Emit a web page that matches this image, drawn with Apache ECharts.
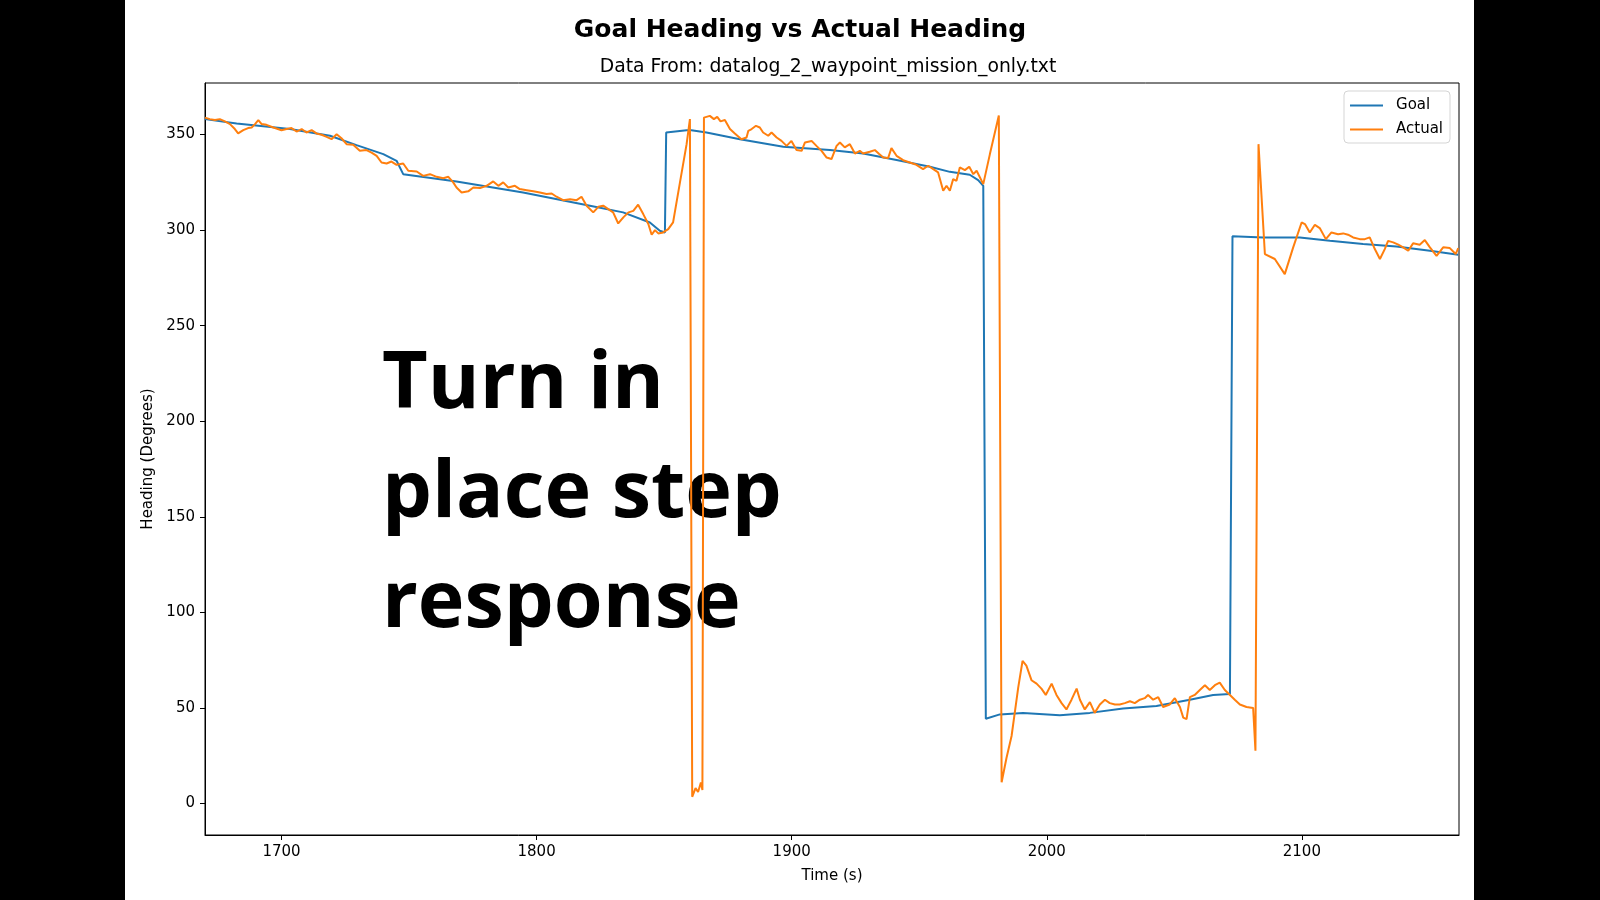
<!DOCTYPE html>
<html>
<head>
<meta charset="utf-8">
<script src="https://cdn.jsdelivr.net/npm/echarts@6/dist/echarts.min.js"></script>
<style>
html,body{margin:0;padding:0;background:#000;}
#chart{width:1600px;height:900px;}
</style>
</head>
<body>
<div id="chart"></div>
<script>
// ---- data ----
const goalTime = [1670,1682.4,1703.3,1719,1729.4,1739.9,1745.1,1747.7,1768.6,1794.7,1820.9,1833.9,1844.4,1848.3,1850.3,1850.8,1858.8,1860.7,1866.6,1879.7,1896.7,1915,1928,1941.1,1954.2,1962,1969.8,1973.1,1975.1,1976.1,1981.6,1990.7,2005.1,2016.9,2029.9,2043,2056.1,2065.2,2071.8,2072.8,2084.8,2099.2,2111,2124,2137.1,2150.2,2161.3];
const goalHeading = [358.1,355.8,352.9,349.4,344.5,339.8,336.3,329.3,325.5,319.7,312.8,309.3,304,299.7,298.8,351.1,352.3,352.3,351.1,347.6,343.6,341.9,340.1,336.7,333.2,330.5,329,326.2,323.2,44.3,46.6,47.4,46.1,47.4,49.7,51,54.3,56.8,57.3,296.8,296.2,296.2,294.5,292.7,291.5,289.2,287.1];

const actualTime = [1670,1671.9,1673.9,1675.8,1677.8,1679.8,1681.7,1683,1685,1686.9,1688.3,1689.6,1690.9,1692.2,1694.1,1696.8,1700,1702,1703.9,1705.9,1707.9,1709.8,1711.8,1713.7,1715.7,1717.7,1719.6,1721.6,1723.5,1725.5,1728.1,1730.7,1733.3,1735.3,1737.3,1739.2,1741.2,1743.1,1745.1,1747.7,1749.7,1753,1755.5,1758.2,1760.8,1763.4,1765.4,1767.3,1768.6,1770.6,1773.2,1775.2,1777.8,1780.4,1783,1785,1786.9,1788.9,1791.5,1793.4,1796.1,1798.7,1801.3,1803.9,1805.9,1807.8,1810.4,1813.1,1815.7,1817.6,1819.6,1822.2,1824.2,1826.1,1828.1,1830,1832,1834,1836,1837.9,1839.8,1841.8,1843.8,1845.1,1846.4,1847.7,1849.6,1851.6,1853.5,1856.2,1858.8,1860.1,1861,1862.3,1863.3,1864.4,1865,1865.6,1867.9,1869.5,1870.8,1872.1,1873.8,1875.8,1877.7,1880.3,1882.3,1883,1884.3,1886,1887.5,1888.8,1890.8,1892.1,1894.1,1896,1898,1899.9,1901.9,1903.9,1905.2,1907.8,1909.7,1911.7,1913.7,1915.6,1917.6,1918.9,1920.8,1922.8,1924.8,1926.7,1928,1930.6,1932.6,1934.3,1935.9,1937.8,1939.1,1941.1,1943.7,1946.3,1948.9,1951.5,1953.5,1955.5,1957.4,1959.4,1960.7,1962,1963.3,1964.6,1965.9,1967.9,1969.6,1971.2,1972.5,1975.1,1977.7,1981.2,1982.3,1984.2,1986.2,1988.8,1990.5,1992,1994,1996,1997.9,1999.6,2001.9,2003.8,2005.8,2007.7,2009.7,2011.7,2013,2014.9,2016.9,2018.8,2020.8,2022.8,2024.7,2026.7,2028.6,2030.6,2032.6,2034.5,2036.5,2038.4,2039.7,2041.7,2043.7,2045.6,2048.2,2050.2,2052.2,2053.5,2054.8,2056.1,2058,2060,2062,2063.9,2065.9,2067.8,2069.8,2071.8,2073.7,2075.7,2078.3,2080.9,2081.8,2083,2085.5,2089.4,2093.3,2096.6,2099.9,2101.2,2103.1,2105.1,2107,2109.4,2111.6,2114.2,2116.2,2118.1,2120.1,2122.7,2124.7,2126.6,2128.6,2130.6,2132.5,2133.8,2135.8,2137.8,2139.7,2141.7,2143.6,2146.2,2148.2,2150.2,2152.8,2155.4,2158,2160.3,2161.3];
const actualHeading = [358.9,358.1,357.6,358.1,356.9,355.5,352.9,350.6,352.3,353.4,353.7,355.5,357.6,355.5,355.1,353.7,352.3,352.9,353.4,351.6,352.9,351.1,352.3,350.6,349.9,348.8,347.6,350.2,348.1,345,344.7,341.5,341.9,340.6,338.9,335.4,334.9,335.9,334.2,334.9,331.1,330.7,328.4,329.3,327.9,327.2,327.9,325,322.3,319.7,320.3,322.3,322,323.2,325.5,323.2,325,322.3,323.2,321.5,320.9,320.3,319.7,318.9,319.2,317.5,315.7,316.2,315.7,317.5,312.8,309.3,312.2,312.8,311,309.3,303.5,306.7,309.3,310.1,313.3,308.4,303.2,297.6,300,298.3,298.8,300.5,304.1,325,345,358.1,3.5,8,6,11,7,358.9,359.8,358.1,359.3,356.9,357.6,352.9,350.6,347.6,348.5,352,352.9,354.6,353.7,351.1,349.4,351.1,348.5,346.7,344.1,346.7,341.9,341.5,345.9,346.7,344.1,341.5,338,337.2,344.1,345.9,343.3,345,340.1,341.5,340.1,341,341.9,339.8,338,337.7,342.9,338.9,336.6,335.4,334.2,331.9,333.7,331.9,330.2,320.6,323.2,320.6,326.7,325.8,332.8,331.4,333.2,329.3,331.1,324.1,339.8,360,11.1,23.8,35.3,60.6,74.6,72.1,64.5,62.7,60.1,56.8,62.7,56.8,52.5,49.2,54.3,60.1,54.3,49.2,53,47.4,51.8,54.3,52.5,51.8,51.8,52.5,53.5,52.5,54.3,55.1,56.8,54.3,55.6,50.5,51.8,55.1,50.5,44.9,44.1,55.6,56.8,59.4,61.9,59.4,61.9,63.2,59.4,56.8,54.3,51.8,50.5,50,27.6,345,287.5,284.9,277,291,304,303.2,298.8,302.8,301.1,295.3,298.8,297.9,298.3,297.6,296.2,295.3,295.3,296.2,290.1,284.9,290.1,294.4,293.6,292.4,291,289.2,293.1,292.4,294.8,291,286.6,291,290.6,287.5,290.6];

const xTicks = [1700, 1800, 1900, 2000, 2100];
const yTicks = [0, 50, 100, 150, 200, 250, 300, 350];
const seriesNames = ['Goal', 'Actual'];
const overlayLines = ['Turn in', 'place step', 'response'];

const goalData = goalTime.map((t, i) => [t, goalHeading[i]]);
const actualData = actualTime.map((t, i) => [t, actualHeading[i]]);

const FONT = '"DejaVu Sans", sans-serif';
const BIG = 'bold 79px "Open Sans"';
const chart = echarts.init(document.getElementById('chart'), null, {renderer: 'canvas'});
chart.setOption({
  animation: false,
  backgroundColor: '#ffffff',
  title: [
    {text: 'Goal Heading vs Actual Heading', left: 'center', top: 18, padding: 0,
     textStyle: {fontFamily: FONT, fontSize: 25, fontWeight: 'bold', color: '#000', lineHeight: 25}},
    {text: 'Data From: datalog_2_waypoint_mission_only.txt', left: 828, textAlign: 'center', top: 58, padding: 0,
     textStyle: {fontFamily: FONT, fontSize: 18.8, fontWeight: 'normal', color: '#000', lineHeight: 19}}
  ],
  legend: {
    data: seriesNames,
    orient: 'vertical',
    right: 150, top: 91,
    padding: [7, 7, 6, 5],
    itemGap: 9,
    itemWidth: 33, itemHeight: 14,
    itemStyle: {opacity: 0, borderWidth: 0},
    backgroundColor: 'rgba(255,255,255,0.8)',
    borderColor: '#d5d5d5', borderWidth: 1, borderRadius: 4,
    textStyle: {fontFamily: FONT, fontSize: 15, color: '#000', padding: [0, 0, 0, 8]}
  },
  grid: {left: 205, right: 141, top: 83, bottom: 65, show: true, borderColor: '#000', borderWidth: 1, containLabel: false},
  xAxis: {
    type: 'value', min: 1670, max: 2161.6,
    name: 'Time (s)', nameLocation: 'middle', nameGap: 34,
    nameTextStyle: {fontFamily: FONT, fontSize: 15, color: '#000'},
    axisLine: {show: true, onZero: false, lineStyle: {color: '#000', width: 1}},
    axisTick: {show: true, length: 5, lineStyle: {color: '#000'}, customValues: xTicks},
    axisLabel: {fontFamily: FONT, fontSize: 15, color: '#000', margin: 10, customValues: xTicks,
                formatter: v => String(v)},
    splitLine: {show: false}
  },
  yAxis: {
    type: 'value', min: -16.5, max: 377,
    name: 'Heading (Degrees)', nameLocation: 'middle', nameGap: 48, nameRotate: 90,
    nameTextStyle: {fontFamily: FONT, fontSize: 15, color: '#000'},
    axisLine: {show: true, onZero: false, lineStyle: {color: '#000', width: 1}},
    axisTick: {show: true, length: 5, lineStyle: {color: '#000'}, customValues: yTicks},
    axisLabel: {fontFamily: FONT, fontSize: 15, color: '#000', margin: 10, customValues: yTicks,
                formatter: v => String(v)},
    splitLine: {show: false}
  },
  graphic: [
    {type: 'rect', left: 0, top: 0, shape: {width: 125, height: 900}, style: {fill: '#000'}, silent: true},
    {type: 'rect', left: 1474, top: 0, shape: {width: 126, height: 900}, style: {fill: '#000'}, silent: true},
    {type: 'text', x: 382, y: 385, z: 1, style: {text: overlayLines[0], font: BIG, fill: '#000', textAlign: 'left', textVerticalAlign: 'middle'}},
    {type: 'text', x: 382, y: 494, z: 1, style: {text: overlayLines[1], font: BIG, fill: '#000', textAlign: 'left', textVerticalAlign: 'middle'}},
    {type: 'text', x: 382, y: 604, z: 1, style: {text: overlayLines[2], font: BIG, fill: '#000', textAlign: 'left', textVerticalAlign: 'middle'}}
  ],
  series: [
    {name: seriesNames[0], type: 'line', data: goalData, symbol: 'none', z: 3,
     lineStyle: {color: '#1f77b4', width: 2}, itemStyle: {color: '#1f77b4'}},
    {name: seriesNames[1], type: 'line', data: actualData, symbol: 'none', z: 4,
     lineStyle: {color: '#ff7f0e', width: 2}, itemStyle: {color: '#ff7f0e'}}
  ]
});
</script>
</body>
</html>
